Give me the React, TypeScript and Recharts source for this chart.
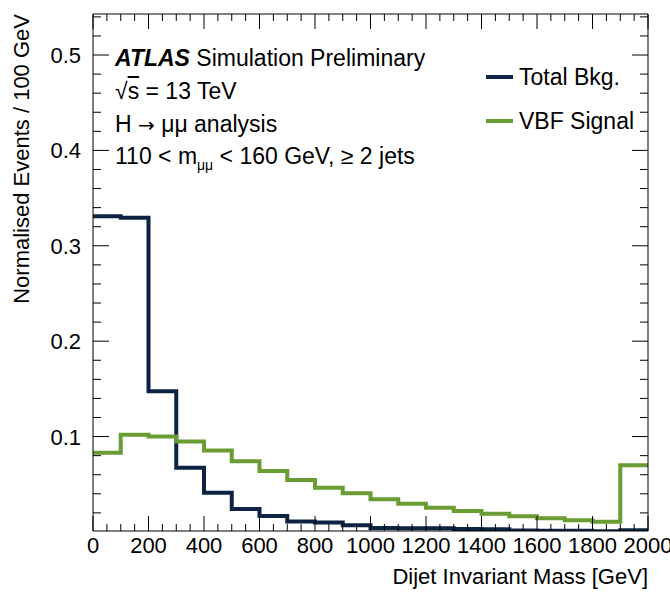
import React from "react";
import { LineChart, Line, XAxis, YAxis, Legend } from "recharts";

// bin low edges, GeV (100 GeV bins, last bin ends at 2000)
const binEdges = [
  0, 100, 200, 300, 400, 500, 600, 700, 800, 900, 1000, 1100, 1200, 1300, 1400,
  1500, 1600, 1700, 1800, 1900,
];
const totalBkg = [
  0.331, 0.3295, 0.1475, 0.0673, 0.0411, 0.024, 0.0168, 0.011, 0.0098, 0.007,
  0.0042, 0.004, 0.0038, 0.003, 0.0028, 0.0015, 0.0013, 0.0012, 0.0008, 0.0018,
];
const vbfSignal = [
  0.083, 0.102, 0.1, 0.0947, 0.0855, 0.074, 0.0638, 0.0544, 0.0464, 0.0405,
  0.0342, 0.0296, 0.0254, 0.022, 0.0191, 0.0164, 0.0143, 0.0122, 0.0108, 0.07,
];
const xMajorTicks = [0, 200, 400, 600, 800, 1000, 1200, 1400, 1600, 1800, 2000];
const yMajorTicks = [0.1, 0.2, 0.3, 0.4, 0.5];

const X_MAX = 2000;
const Y_DOMAIN: [number, number] = [0.001, 0.543];

const NAVY = "#0c2344";
const GREEN = "#6a9c34";
const FONT = "'Liberation Sans', Arial, Helvetica, sans-serif";

// step line needs a closing point at the upper edge of the last bin
const data = binEdges
  .map((x, i) => ({ x, bkg: totalBkg[i], sig: vbfSignal[i] }))
  .concat([
    {
      x: X_MAX,
      bkg: totalBkg[totalBkg.length - 1],
      sig: vbfSignal[vbfSignal.length - 1],
    },
  ]);

const xTicks: number[] = [];
for (let v = 0; v <= X_MAX; v += 50) xTicks.push(v);
const yTicks: number[] = [];
for (let k = 1; k <= 27; k++) yTicks.push(Math.round(k * 2) / 100);

const isXMajor = (v: number) => xMajorTicks.includes(v);
const isYMajor = (v: number) =>
  yMajorTicks.some((m) => Math.abs(m - v) < 1e-9);

function BottomTick({ x, y, payload }: any) {
  const major = isXMajor(payload.value);
  return (
    <g>
      <line x1={x} x2={x} y1={y} y2={y - (major ? 15 : 7)} stroke="#000" />
      {major && (
        <text
          x={x}
          y={y + 22}
          textAnchor="middle"
          fontSize={22}
          fontFamily={FONT}
          fill="#000"
        >
          {payload.value}
        </text>
      )}
    </g>
  );
}

function TopTick({ x, y, payload }: any) {
  const major = isXMajor(payload.value);
  return <line x1={x} x2={x} y1={y} y2={y + (major ? 15 : 7)} stroke="#000" />;
}

function LeftTick({ x, y, payload }: any) {
  const major = isYMajor(payload.value);
  return (
    <g>
      <line x1={x} x2={x + (major ? 16 : 8)} y1={y} y2={y} stroke="#000" />
      {major && (
        <text
          x={x - 12}
          y={y + 8}
          textAnchor="end"
          fontSize={22}
          fontFamily={FONT}
          fill="#000"
        >
          {payload.value}
        </text>
      )}
    </g>
  );
}

function RightTick({ x, y, payload }: any) {
  const major = isYMajor(payload.value);
  return <line x1={x} x2={x - (major ? 16 : 8)} y1={y} y2={y} stroke="#000" />;
}

function LegendBox({ payload }: any) {
  return (
    <div style={{ fontFamily: FONT, fontSize: 23, color: "#000" }}>
      {(payload || []).map((p: any) => (
        <div
          key={p.value}
          style={{ display: "flex", alignItems: "center", height: 44 }}
        >
          <span
            style={{
              display: "inline-block",
              width: 27,
              height: 4,
              background: p.color,
              marginRight: 6,
            }}
          />
          {p.value}
        </div>
      ))}
    </div>
  );
}

const label: React.CSSProperties = {
  position: "absolute",
  left: 115,
  fontFamily: FONT,
  fontSize: 23,
  color: "#000",
  whiteSpace: "nowrap",
  lineHeight: "23px",
};

export default function App() {
  return (
    <div
      style={{
        position: "absolute",
        left: 0,
        top: 0,
        width: 670,
        height: 592,
        background: "#fff",
        overflow: "hidden",
      }}
    >
      <LineChart
        width={670}
        height={592}
        data={data}
        margin={{ top: 13, right: 21, bottom: 0, left: 0 }}
      >
        <XAxis
          xAxisId="b"
          dataKey="x"
          type="number"
          domain={[0, X_MAX]}
          ticks={xTicks}
          interval={0}
          height={61}
          tickSize={0}
          tickMargin={0}
          tickLine={false}
          axisLine={{ stroke: "#000" }}
          tick={BottomTick}
        />
        <XAxis
          xAxisId="t"
          orientation="top"
          dataKey="x"
          type="number"
          domain={[0, X_MAX]}
          ticks={xTicks}
          interval={0}
          height={1}
          tickSize={0}
          tickMargin={0}
          tickLine={false}
          axisLine={{ stroke: "#000" }}
          tick={TopTick}
        />
        <YAxis
          yAxisId="l"
          type="number"
          domain={Y_DOMAIN}
          allowDataOverflow
          ticks={yTicks}
          interval={0}
          width={93}
          tickSize={0}
          tickMargin={0}
          tickLine={false}
          axisLine={{ stroke: "#000" }}
          tick={LeftTick}
        />
        <YAxis
          yAxisId="r"
          orientation="right"
          type="number"
          domain={Y_DOMAIN}
          allowDataOverflow
          ticks={yTicks}
          interval={0}
          width={1}
          tickSize={0}
          tickMargin={0}
          tickLine={false}
          axisLine={{ stroke: "#000" }}
          tick={RightTick}
        />
        <Legend
          layout="vertical"
          align="center"
          verticalAlign="middle"
          content={LegendBox}
          wrapperStyle={{ position: "absolute", left: 486, top: 55, width: "auto" }}
        />
        <Line
          xAxisId="b"
          yAxisId="l"
          type="stepAfter"
          dataKey="bkg"
          name="Total Bkg."
          stroke={NAVY}
          strokeWidth={4}
          strokeLinejoin="miter"
          dot={false}
          isAnimationActive={false}
        />
        <Line
          xAxisId="b"
          yAxisId="l"
          type="stepAfter"
          dataKey="sig"
          name="VBF Signal"
          stroke={GREEN}
          strokeWidth={4}
          strokeLinejoin="miter"
          dot={false}
          isAnimationActive={false}
        />
      </LineChart>

      <div style={{ ...label, top: 47 }}>
        <b>
          <i>ATLAS</i>
        </b>{" "}
        Simulation Preliminary
      </div>
      <div style={{ ...label, top: 80 }}>
        √<span style={{ textDecoration: "overline" }}>s</span> = 13 TeV
      </div>
      <div style={{ ...label, top: 113 }}>
        H <span style={{ fontFamily: "'DejaVu Sans', sans-serif", fontSize: 20 }}>→</span> μμ analysis
      </div>
      <div style={{ ...label, top: 145 }}>
        110 &lt; m<sub style={{ fontSize: 14 }}>μμ</sub> &lt; 160 GeV, ≥ 2 jets
      </div>

      <div
        style={{
          position: "absolute",
          left: 648,
          top: 566,
          transform: "translateX(-100%)",
          fontFamily: FONT,
          fontSize: 22,
          lineHeight: "22px",
          whiteSpace: "nowrap",
        }}
      >
        Dijet Invariant Mass [GeV]
      </div>
      <div
        style={{
          position: "absolute",
          left: 11,
          top: 14,
          transformOrigin: "0 0",
          transform: "rotate(-90deg) translateX(-100%)",
          fontFamily: FONT,
          fontSize: 22,
          lineHeight: "22px",
          whiteSpace: "nowrap",
        }}
      >
        Normalised Events / 100 GeV
      </div>
    </div>
  );
}
